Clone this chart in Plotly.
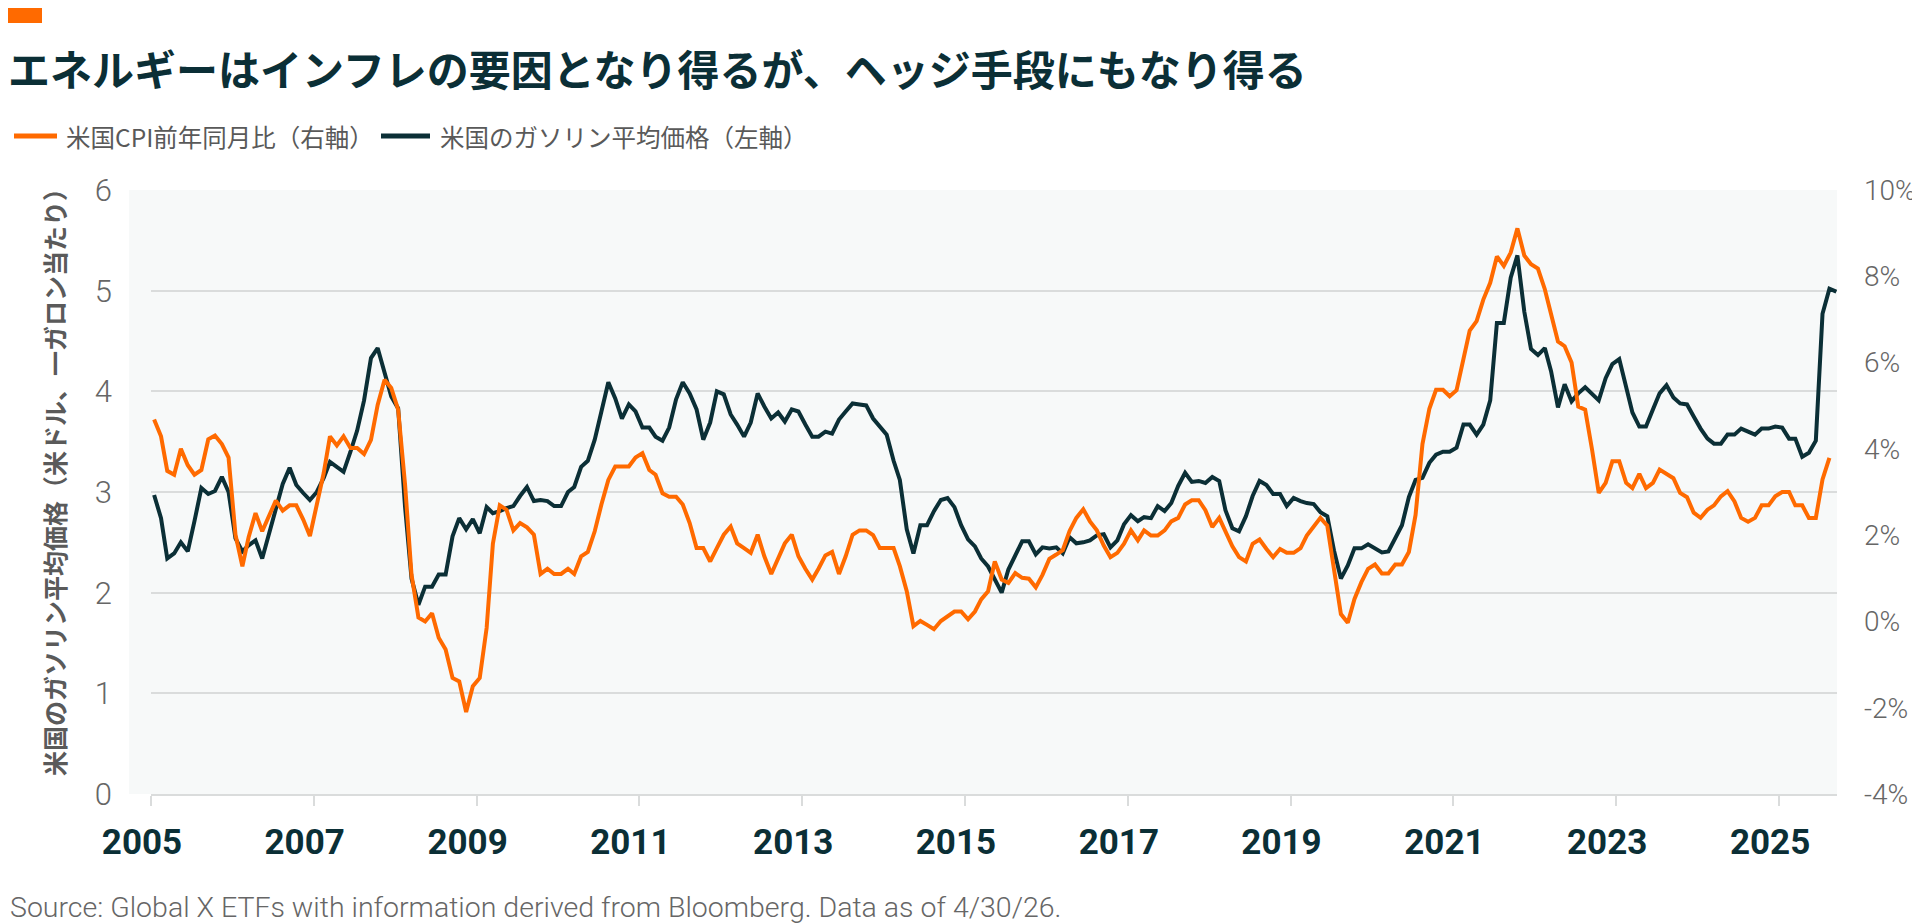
import pandas as pd
import plotly.graph_objects as go

# chart text
title_text = "エネルギーはインフレの要因となり得るが、ヘッジ手段にもなり得る"
cpi_name = "米国CPI前年同月比（右軸）"
gas_name = "米国のガソリン平均価格（左軸）"
y_title = "米国のガソリン平均価格（米ドル、一ガロン当たり）"
source_text = "Source: Global X ETFs with information derived from Bloomberg. Data as of 4/30/26."

# monthly series, first value = Jan 2005
first_month = "2005-01-01"

gas_price = [
    2.97, 2.74, 2.34, 2.39, 2.50, 2.41, 2.71, 3.04, 2.98, 3.01, 3.15, 3.00,
    2.54, 2.41, 2.47, 2.52, 2.34, 2.59, 2.85, 3.08, 3.24, 3.07, 2.99, 2.92,
    3.00, 3.14, 3.30, 3.25, 3.20, 3.40, 3.61, 3.91, 4.33, 4.43, 4.20, 3.95,
    3.83, 2.85, 2.14, 1.88, 2.06, 2.06, 2.18, 2.18, 2.56, 2.74, 2.63, 2.73,
    2.59, 2.85, 2.79, 2.81, 2.84, 2.86, 2.96, 3.05, 2.91, 2.92, 2.91, 2.86,
    2.86, 3.00, 3.05, 3.25, 3.31, 3.52, 3.80, 4.09, 3.93, 3.73, 3.87, 3.80,
    3.64, 3.64, 3.55, 3.51, 3.64, 3.92, 4.09, 3.98, 3.82, 3.52, 3.69, 4.00,
    3.97, 3.77, 3.67, 3.55, 3.69, 3.98, 3.85, 3.73, 3.79, 3.70, 3.82, 3.80,
    3.67, 3.55, 3.55, 3.60, 3.58, 3.72, 3.80, 3.88, 3.87, 3.86, 3.73, 3.65,
    3.57, 3.31, 3.12, 2.63, 2.39, 2.67, 2.67, 2.81, 2.92, 2.94, 2.85, 2.67,
    2.53, 2.46, 2.34, 2.26, 2.13, 2.00, 2.23, 2.38, 2.51, 2.51, 2.38, 2.45,
    2.44, 2.45, 2.39, 2.55, 2.49, 2.50, 2.52, 2.57, 2.58, 2.45, 2.52, 2.68,
    2.77, 2.71, 2.75, 2.74, 2.86, 2.81, 2.89, 3.06, 3.19, 3.10, 3.11, 3.09,
    3.15, 3.11, 2.82, 2.64, 2.61, 2.76, 2.96, 3.11, 3.07, 2.98, 2.98, 2.86,
    2.94, 2.91, 2.89, 2.88, 2.80, 2.76, 2.42, 2.14, 2.27, 2.44, 2.44, 2.48,
    2.44, 2.40, 2.41, 2.54, 2.67, 2.95, 3.12, 3.14, 3.29, 3.37, 3.40, 3.40,
    3.44, 3.67, 3.67, 3.57, 3.67, 3.91, 4.68, 4.68, 5.13, 5.35, 4.79, 4.42,
    4.36, 4.43, 4.20, 3.84, 4.07, 3.90, 3.98, 4.04, 3.97, 3.91, 4.13, 4.27,
    4.32, 4.03, 3.79, 3.65, 3.65, 3.82, 3.98, 4.06, 3.94, 3.88, 3.87, 3.75,
    3.63, 3.53, 3.48, 3.48, 3.57, 3.57, 3.63, 3.60, 3.57, 3.63, 3.63, 3.65,
    3.64, 3.53, 3.53, 3.35, 3.39, 3.51, 4.77, 5.02, 4.99,
]

cpi_yoy = [
    4.68, 4.29, 3.49, 3.40, 4.00, 3.62, 3.40, 3.51, 4.22, 4.31, 4.11, 3.80,
    2.01, 1.28, 1.95, 2.51, 2.09, 2.43, 2.80, 2.57, 2.69, 2.69, 2.36, 1.98,
    2.71, 3.44, 4.29, 4.08, 4.29, 4.02, 4.02, 3.88, 4.21, 5.02, 5.60, 5.41,
    4.91, 3.17, 1.08, 0.09, 0.00, 0.19, -0.38, -0.65, -1.31, -1.39, -2.10, -1.50,
    -1.31, -0.15, 1.80, 2.69, 2.59, 2.11, 2.28, 2.18, 2.01, 1.10, 1.22, 1.10,
    1.10, 1.22, 1.10, 1.51, 1.61, 2.09, 2.71, 3.28, 3.59, 3.59, 3.59, 3.80,
    3.90, 3.51, 3.40, 2.97, 2.89, 2.89, 2.71, 2.28, 1.70, 1.70, 1.39, 1.70,
    2.01, 2.20, 1.81, 1.70, 1.59, 2.01, 1.51, 1.10, 1.44, 1.81, 2.01, 1.51,
    1.22, 0.97, 1.22, 1.53, 1.61, 1.10, 1.51, 2.01, 2.11, 2.11, 2.00, 1.70,
    1.70, 1.70, 1.28, 0.70, -0.11, 0.01, -0.08, -0.18, 0.01, 0.13, 0.23, 0.23,
    0.05, 0.23, 0.51, 0.70, 1.39, 0.97, 0.89, 1.12, 1.01, 0.99, 0.79, 1.08,
    1.45, 1.55, 1.65, 2.10, 2.40, 2.60, 2.32, 2.11, 1.76, 1.49, 1.59, 1.80,
    2.11, 1.88, 2.11, 1.99, 1.99, 2.11, 2.32, 2.40, 2.71, 2.81, 2.81, 2.58,
    2.19, 2.40, 2.07, 1.74, 1.49, 1.39, 1.80, 1.90, 1.68, 1.49, 1.68, 1.59,
    1.59, 1.70, 1.99, 2.19, 2.40, 2.22, 1.22, 0.17, -0.03, 0.52, 0.91, 1.22,
    1.32, 1.11, 1.11, 1.32, 1.32, 1.61, 2.47, 4.11, 4.93, 5.37, 5.37, 5.22,
    5.36, 6.14, 6.74, 6.96, 7.46, 7.85, 8.46, 8.24, 8.55, 9.11, 8.48, 8.28,
    8.18, 7.70, 7.09, 6.49, 6.38, 6.00, 4.98, 4.91, 3.98, 2.98, 3.21, 3.71,
    3.71, 3.21, 3.09, 3.42, 3.09, 3.21, 3.52, 3.42, 3.32, 2.98, 2.88, 2.52,
    2.40, 2.59, 2.69, 2.90, 3.02, 2.78, 2.40, 2.31, 2.40, 2.69, 2.69, 2.90,
    3.00, 3.00, 2.69, 2.69, 2.40, 2.40, 3.29, 3.79,
]

# axis ticks
year_ticks = ["2005", "2007", "2009", "2011", "2013", "2015", "2017", "2019", "2021", "2023", "2025"]
left_ticks = [0, 1, 2, 3, 4, 5, 6]
right_ticks = [-4, -2, 0, 2, 4, 6, 8, 10]
right_tick_labels = ["-4%", "-2%", "0%", "2%", "4%", "6%", "8%", "10%"]

ORANGE = "#ff6a00"
DARK = "#0b2f36"
GRID = "#dadcdc"
BG = "#f7f9f9"
CJK = "Noto Sans CJK JP"
LATIN = "Roboto"

# plot area in pixels (1920 x 924 page)
L, R, T, B = 143, 1829, 182, 786
W, H = 1920, 924


def px(x):
    return (x - L) / (R - L)


def py(y):
    return (B - y) / (B - T)


months = pd.date_range(first_month, periods=len(gas_price), freq="MS") + pd.Timedelta(days=14)
cpi_months = months[:len(cpi_yoy)]

fig = go.Figure()

fig.add_trace(go.Scatter(
    x=months, y=gas_price, mode="lines", name=gas_name,
    line=dict(color=DARK, width=4), yaxis="y", showlegend=False,
))
fig.add_trace(go.Scatter(
    x=cpi_months, y=cpi_yoy, mode="lines", name=cpi_name,
    line=dict(color=ORANGE, width=4), yaxis="y2", showlegend=False,
))

fig.update_layout(
    width=W, height=H,
    margin=dict(l=L, r=W - R, t=T, b=H - B, autoexpand=False),
    paper_bgcolor="white",
    plot_bgcolor=BG,
    title=dict(
        text="<b>" + title_text + "</b>",
        font=dict(family=CJK, size=42, color=DARK),
        xref="container", yref="container",
        x=0, xanchor="left", y=1 - 63 / H, yanchor="middle",
    ),
    xaxis=dict(
        type="date",
        range=["2005-01-01", "2025-09-18"],
        tickvals=[y + "-01-01" for y in year_ticks],
        ticktext=year_ticks,
        showgrid=False, zeroline=False,
        showline=True, linecolor=GRID, linewidth=2,
        ticks="outside", ticklen=10, tickwidth=2, tickcolor=GRID,
        ticklabelstandoff=6, ticklabelshift=-9,
        tickfont=dict(family=LATIN, size=35, color=DARK, weight="bold"),
    ),
    yaxis=dict(
        range=[0, 6],
        tickvals=left_ticks,
        showgrid=True, gridcolor=GRID, gridwidth=2,
        zeroline=False,
        ticks="", ticklabelstandoff=38,
        tickfont=dict(family=LATIN, size=31, color="#666666", weight=300),
    ),
    yaxis2=dict(
        range=[-4, 10],
        overlaying="y", side="right",
        tickvals=right_ticks, ticktext=right_tick_labels,
        showgrid=False, zeroline=False,
        ticks="", ticklabelstandoff=26,
        tickfont=dict(family=LATIN, size=28, color="#666666", weight=300),
    ),
)

# small orange tag, extra background strip, legend lines
fig.add_shape(type="rect", xref="paper", yref="paper",
              x0=px(0), x1=px(34), y0=py(15), y1=py(0),
              fillcolor=ORANGE, line=dict(width=0))
fig.add_shape(type="rect", xref="paper", yref="paper", layer="below",
              x0=px(121), x1=0, y0=0, y1=1,
              fillcolor=BG, line=dict(width=0))
fig.add_shape(type="line", xref="paper", yref="paper",
              x0=px(6), x1=px(49), y0=py(128), y1=py(128),
              line=dict(color=ORANGE, width=5))
fig.add_shape(type="line", xref="paper", yref="paper",
              x0=px(373), x1=px(422), y0=py(128), y1=py(128),
              line=dict(color=DARK, width=5))

fig.add_annotation(text=cpi_name, xref="paper", yref="paper",
                   x=px(56), y=py(128), xanchor="left", yanchor="middle",
                   showarrow=False, font=dict(family=CJK, size=24.5, color="#595959"))
fig.add_annotation(text=gas_name, xref="paper", yref="paper",
                   x=px(430), y=py(128), xanchor="left", yanchor="middle",
                   showarrow=False, font=dict(family=CJK, size=24.5, color="#595959"))
fig.add_annotation(text="<b>" + y_title + "</b>", xref="paper", yref="paper",
                   x=px(46), y=py(468), xanchor="center", yanchor="middle",
                   textangle=-90, showarrow=False,
                   font=dict(family=CJK, size=25, color="#5a5a5a"))
fig.add_annotation(text=source_text, xref="paper", yref="paper",
                   x=px(0), y=py(899), xanchor="left", yanchor="middle",
                   showarrow=False, font=dict(family=LATIN, size=28.5, color="#666666", weight=300))

fig.write_html("out.html")
